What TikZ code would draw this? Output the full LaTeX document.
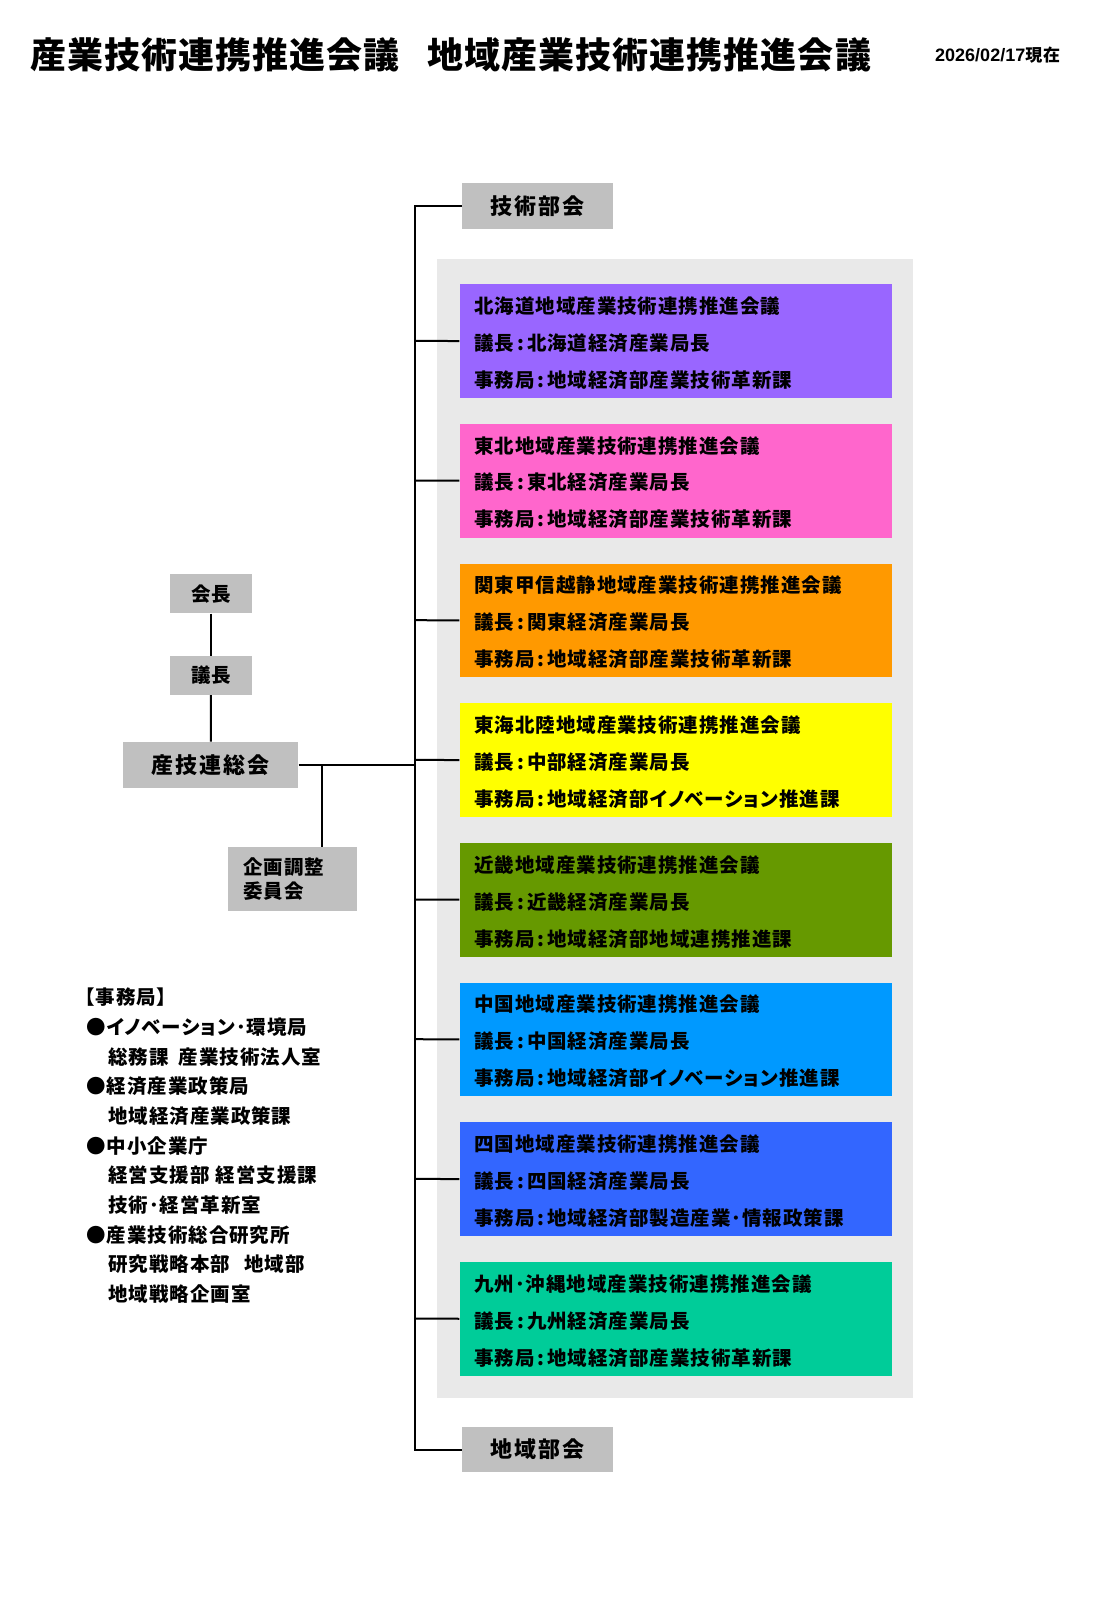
\documentclass[tikz,border=0pt]{standalone}
\usepackage{fontspec}
\setmainfont{Noto Sans CJK JP}
\newfontfamily\fntxt{Noto Sans CJK JP}[LetterSpace=5,RawFeature=+palt]
\newfontfamily\fnleg{Noto Sans CJK JP}[LetterSpace=5,RawFeature=+palt]
\newfontfamily\fnbig{Noto Sans CJK JP}[LetterSpace=9]
\newfontfamily\fntitle{Noto Sans CJK JP}[LetterSpace=3]
\newfontfamily\fndate{Liberation Sans}
\definecolor{cA}{HTML}{9966FF}
\definecolor{cB}{HTML}{FF66CC}
\definecolor{cC}{HTML}{FF9900}
\definecolor{cD}{HTML}{FFFF00}
\definecolor{cE}{HTML}{669900}
\definecolor{cF}{HTML}{0099FF}
\definecolor{cG}{HTML}{3366FF}
\definecolor{cH}{HTML}{00CC99}
\definecolor{boxgray}{HTML}{C0C0C0}
\definecolor{bggray}{HTML}{E9E9E9}
\newcommand{\colonsep}{\hspace{3pt}:\hspace{3pt}}
\tikzset{
  conn/.style={line width=2pt, black},
  graybig/.style={fill=boxgray, inner sep=0pt, font=\fnbig\bfseries\fontsize{22}{24}\selectfont},
  graysmall/.style={fill=boxgray, inner sep=0pt, font=\fntxt\bfseries\fontsize{19.5}{23.4}\selectfont},
  regbox/.style={inner sep=0pt, minimum width=432.7, minimum height=113.7, anchor=north west},
  regtxt/.style={inner sep=0pt, anchor=west, font=\fntxt\bfseries\fontsize{19.5}{22}\selectfont},
  legtxt/.style={inner sep=0pt, anchor=west, font=\fnleg\bfseries\fontsize{19.5}{22}\selectfont},
  titletxt/.style={inner sep=0pt, anchor=west, font=\fntitle\bfseries\fontsize{36}{40}\selectfont}
}
\begin{document}
\begin{tikzpicture}[x=1pt,y=-1pt]
\useasboundingbox (0,0) rectangle (1109,1600);
\fill[white] (0,0) rectangle (1109,1600);

% title
\node[titletxt] (title1) at (30,55) {産業技術連携推進会議};
\node[titletxt] (title2) at (427,55) {地域産業技術連携推進会議};
\node[inner sep=0pt, anchor=west] (date) at (935,55)
  {\fndate\bfseries\fontsize{18}{20}\selectfont 2026/02/17{\fntxt\bfseries\fontsize{17}{20}\selectfont 現在}};

% background panel
\node[fill=bggray, inner sep=0pt, minimum width=476.3, minimum height=1139, anchor=north west] (bg) at (436.7,258.3) {};

% top and bottom
\node[graybig, minimum width=151, minimum height=46] (gijutsu) at (537.2,206.3) {技術部会};
\node[graybig, minimum width=151, minimum height=45.6] (chiiki) at (537.2,1449.5) {地域部会};

% regional boxes
\foreach \i/\col/\la/\lb/\lc in {
 0/cA/北海道地域産業技術連携推進会議/北海道経済産業局長/地域経済部産業技術革新課,
 1/cB/東北地域産業技術連携推進会議/東北経済産業局長/地域経済部産業技術革新課,
 2/cC/関東甲信越静地域産業技術連携推進会議/関東経済産業局長/地域経済部産業技術革新課,
 3/cD/東海北陸地域産業技術連携推進会議/中部経済産業局長/地域経済部イノベーション推進課,
 4/cE/近畿地域産業技術連携推進会議/近畿経済産業局長/地域経済部地域連携推進課,
 5/cF/中国地域産業技術連携推進会議/中国経済産業局長/地域経済部イノベーション推進課,
 6/cG/四国地域産業技術連携推進会議/四国経済産業局長/地域経済部製造産業･情報政策課,
 7/cH/九州･沖縄地域産業技術連携推進会議/九州経済産業局長/地域経済部産業技術革新課}
{
  \pgfmathsetmacro\ytop{284+\i*139.67}
  \node[regbox, fill=\col] (box\i) at (459.3,\ytop) {};
  \node[regtxt] (la\i) at (474,{\ytop+22}) {\la};
  \node[regtxt] (lb\i) at (474,{\ytop+59}) {議長\colonsep\lb};
  \node[regtxt] (lc\i) at (474,{\ytop+96}) {事務局\colonsep\lc};
  \coordinate (t\i) at (415,{\ytop+56.85});
  \draw[conn] (t\i) -- (box\i.west);
}

% trunk
\coordinate (ttop) at (415,206.3);
\coordinate (tbot) at (415,1449.5);
\draw[conn] (gijutsu.west) -- (ttop) -- (tbot) -- (chiiki.west);

% left hierarchy
\node[graysmall, minimum width=81.7, minimum height=39.3] (kaicho) at (211,593.7) {会長};
\node[graysmall, minimum width=81.7, minimum height=39] (gicho) at (211,675.5) {議長};
\node[graybig, minimum width=175, minimum height=46.6] (sangi) at (210.8,765) {産技連総会};
\node[graysmall, minimum width=128.4, minimum height=64, align=left, text width=98] (kikaku) at (292.5,879) {企画調整\\委員会};
\draw[conn] (kaicho) -- (gicho);
\draw[conn] (gicho) -- (sangi);
\coordinate (tmid) at (415,765);
\coordinate (br) at (321.7,765);
\draw[conn] (sangi.east) -- (tmid);
\draw[conn] (br) -- (br |- kikaku.north);

% legend
\node[legtxt] (g0) at (85,997.5) {【事務局】};
\node[legtxt] (g1) at (86,1027.2) {●イノベーション･環境局};
\node[legtxt] (g2) at (108,1056.8) {総務課\hspace{10pt}産業技術法人室};
\node[legtxt] (g3) at (86,1086.5) {●経済産業政策局};
\node[legtxt] (g4) at (108,1116.2) {地域経済産業政策課};
\node[legtxt] (g5) at (86,1145.8) {●中小企業庁};
\node[legtxt] (g6) at (108,1175.5) {経営支援部\hspace{6pt}経営支援課};
\node[legtxt] (g7) at (108,1205.2) {技術･経営革新室};
\node[legtxt] (g8) at (86,1234.8) {●産業技術総合研究所};
\node[legtxt] (g9) at (108,1264.5) {研究戦略本部\hspace{14pt}地域部};
\node[legtxt] (g10) at (108,1294.2) {地域戦略企画室};
\end{tikzpicture}
\end{document}
